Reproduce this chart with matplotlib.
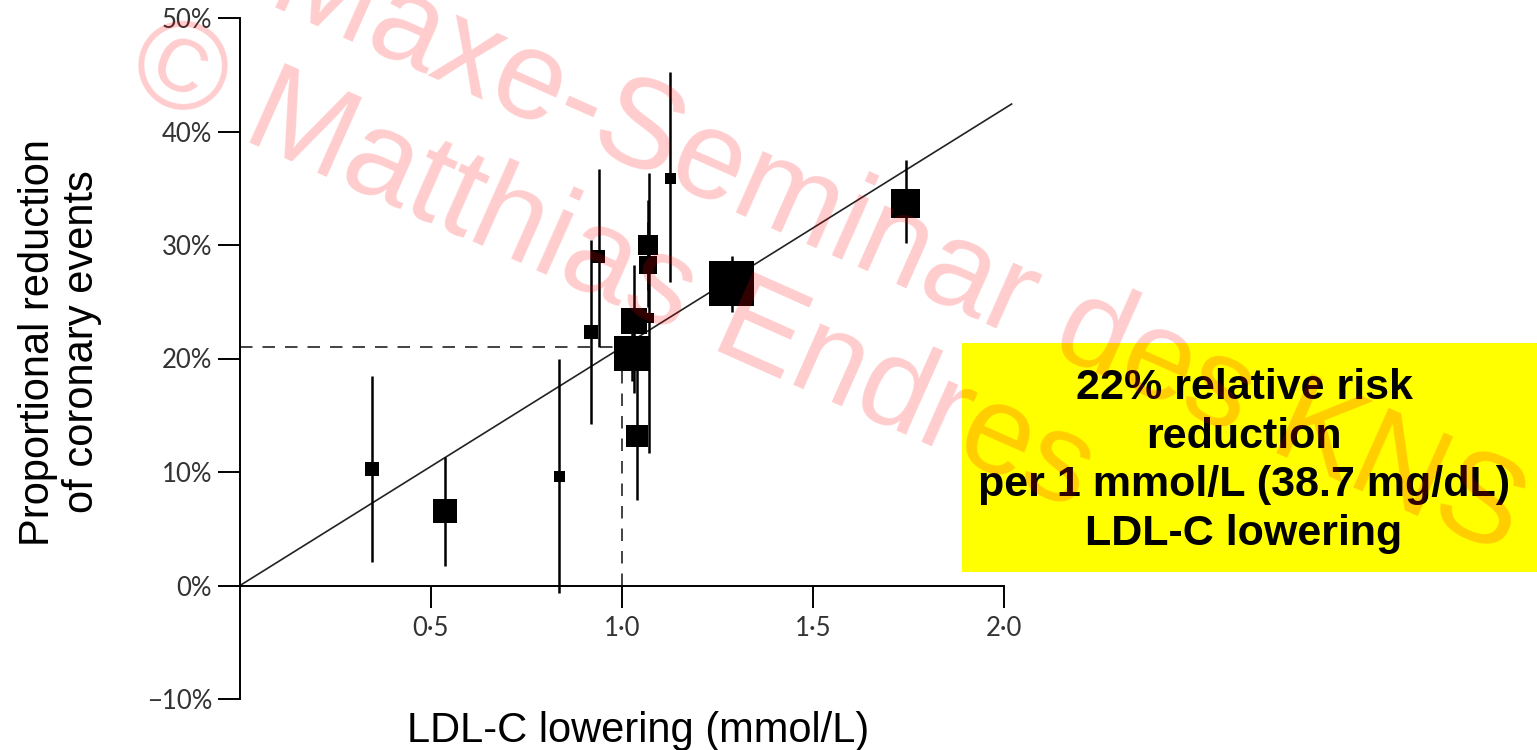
import matplotlib
matplotlib.use("Agg")
import matplotlib.pyplot as plt
from matplotlib.patches import Rectangle

# LDL-C lowering (mmol/L) and proportional reduction of coronary events (%) per trial
ldl_lowering = [0.346, 0.537, 0.836, 0.918, 0.939, 1.025, 1.031, 1.039,
                1.068, 1.068, 1.072, 1.127, 1.288, 1.743]
risk_reduction = [10.3, 6.6, 9.6, 22.3, 29.0, 20.4, 23.3, 13.2,
                  30.0, 28.2, 23.6, 35.9, 26.6, 33.7]
ci_low = [2.1, 1.7, -0.7, 14.2, 21.0, 18.0, 17.0, 7.5,
          26.0, 24.5, 11.7, 26.7, 24.1, 30.2]
ci_high = [18.5, 11.3, 20.0, 30.4, 36.7, 22.8, 28.2, 19.0,
           34.0, 32.0, 36.3, 45.2, 29.0, 37.5]
# relative statistical weight (drawn as box size)
weight = [14, 24, 11, 14, 13, 35, 26, 22, 20, 18, 10, 11, 45, 29]

# fitted line: 21% reduction per 1 mmol/L
slope = 21.0
line_x = [0.0, 2.02]
ref_x = 1.0

y_ticks = [-10, 0, 10, 20, 30, 40, 50]
y_tick_labels = ["\u221210%", "0%", "10%", "20%", "30%", "40%", "50%"]
x_ticks = [0.5, 1.0, 1.5, 2.0]
x_tick_labels = ["0\u00b75", "1\u00b70", "1\u00b75", "2\u00b70"]

box_text = "22% relative risk\nreduction\nper 1 mmol/L (38.7 mg/dL)\nLDL-C lowering"
watermark_1 = "Maxe-Seminar des KNS"
watermark_2 = "\u00a9 Matthias Endres"

W, H = 1537, 750
fig = plt.figure(figsize=(W / 100, H / 100), dpi=100)
ax = fig.add_axes([240 / W, 51 / H, 771.6 / W, 681 / H])
ax.set_xlim(0, 2.02)
ax.set_ylim(-10, 50)

for s in ["top", "right"]:
    ax.spines[s].set_visible(False)
ax.spines["bottom"].set_position(("data", 0))
ax.spines["bottom"].set_bounds(0, 2.0)
ax.spines["left"].set_bounds(-10, 50)
for s in ["bottom", "left"]:
    ax.spines[s].set_linewidth(1.4)

tick_font = ["Lato", "DejaVu Sans"]
ax.set_yticks(y_ticks)
ax.set_yticklabels(y_tick_labels, family=tick_font, fontsize=18.5, color="#333333")
ax.set_xticks(x_ticks)
ax.set_xticklabels(x_tick_labels, family=tick_font, fontsize=18.5, color="#333333")
ax.tick_params(axis="y", length=16, width=1.4, pad=4)
ax.tick_params(axis="x", length=16, width=1.4, pad=6)

# regression line and reference dashes
ax.plot(line_x, [slope * v for v in line_x], color="#222222", lw=1.2,
        zorder=1, clip_on=False)
ax.plot([0, ref_x], [slope * ref_x] * 2, color="#222222", lw=1.2,
        linestyle=(0, (7.5, 6)), zorder=1)
ax.plot([ref_x, ref_x], [0, slope * ref_x], color="#222222", lw=1.2,
        linestyle=(0, (7.5, 6)), zorder=1)

# confidence intervals and boxes
ax.vlines(ldl_lowering, ci_low, ci_high, color="black", lw=1.8,
          zorder=2, clip_on=False)
ax.scatter(ldl_lowering, risk_reduction, marker="s",
           s=[(w * 0.72) ** 2 for w in weight], color="black",
           linewidths=0, zorder=3, clip_on=False)

# axis titles
fig.text(638 / W, 1 - 731 / H, "LDL-C lowering (mmol/L)", ha="center",
         va="center", fontsize=30, family="Liberation Sans")
fig.text(60 / W, 1 - 342 / H, "Proportional reduction\nof coronary events",
         ha="center", va="center", rotation=90, fontsize=30,
         family="Liberation Sans", linespacing=1.12)

# yellow note box
fig.add_artist(Rectangle((962 / W, 1 - 572 / H), (W - 962) / W, 229 / H,
                         transform=fig.transFigure, facecolor="#ffff00",
                         edgecolor="none", zorder=5))
fig.text(1244 / W, 1 - 461 / H, box_text, ha="center", va="center",
         fontsize=31, fontweight="bold", family="Liberation Sans",
         linespacing=1.27, zorder=6)

# watermark
for txt, px, py in [(watermark_1, 265, 3), (watermark_2, 122, 86)]:
    fig.text(px / W, 1 - py / H, txt, ha="left", va="baseline",
             rotation=-24, rotation_mode="anchor", fontsize=91,
             family="Liberation Sans", color="red", alpha=0.2, zorder=10)

fig.savefig("out.png", dpi=100)
